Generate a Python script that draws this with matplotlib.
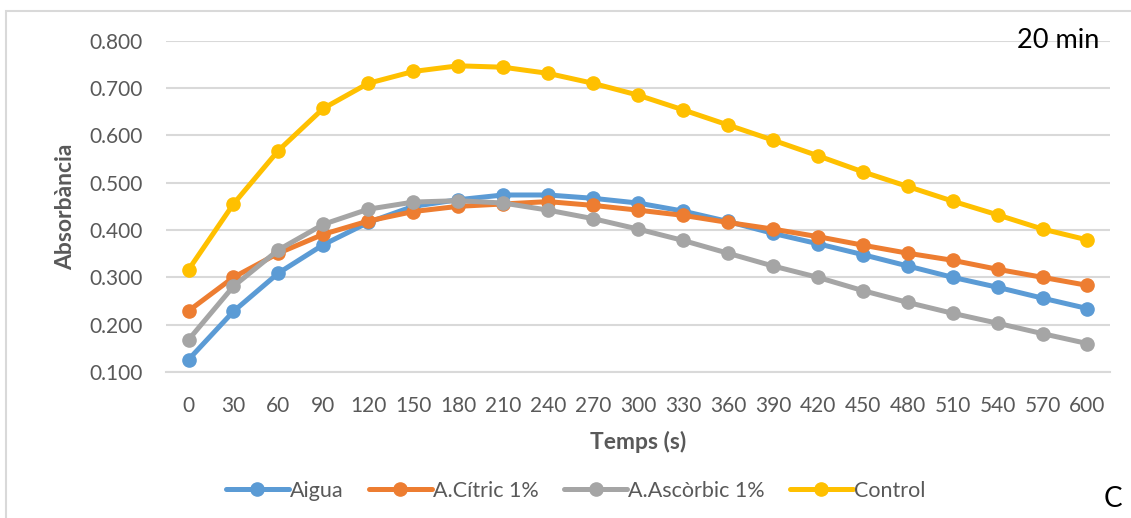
import matplotlib.pyplot as plt
from matplotlib.patches import Rectangle

temps = [0, 30, 60, 90, 120, 150, 180, 210, 240, 270, 300,
         330, 360, 390, 420, 450, 480, 510, 540, 570, 600]

aigua = [0.126, 0.228, 0.309, 0.369, 0.416, 0.450, 0.464, 0.474, 0.474, 0.467, 0.457,
         0.440, 0.418, 0.393, 0.371, 0.348, 0.324, 0.300, 0.279, 0.256, 0.234]
citric = [0.229, 0.300, 0.351, 0.391, 0.419, 0.439, 0.450, 0.455, 0.460, 0.452, 0.442,
          0.431, 0.416, 0.402, 0.386, 0.368, 0.351, 0.336, 0.317, 0.300, 0.283]
ascorbic = [0.168, 0.281, 0.358, 0.412, 0.444, 0.459, 0.462, 0.457, 0.442, 0.424, 0.402,
            0.378, 0.351, 0.324, 0.300, 0.272, 0.247, 0.224, 0.203, 0.181, 0.160]
control = [0.316, 0.455, 0.568, 0.657, 0.710, 0.735, 0.747, 0.744, 0.731, 0.710, 0.685,
           0.654, 0.622, 0.590, 0.557, 0.523, 0.492, 0.461, 0.432, 0.402, 0.379]

series = [
    ("Aigua", aigua, "#5B9BD5"),
    ("A.Cítric 1%", citric, "#ED7D31"),
    ("A.Ascòrbic 1%", ascorbic, "#A5A5A5"),
    ("Control", control, "#FFC000"),
]
y_ticks = [0.1, 0.2, 0.3, 0.4, 0.5, 0.6, 0.7, 0.8]

plt.rcParams["font.family"] = ["Lato", "DejaVu Sans"]
text_grey = "#595959"

fig = plt.figure(figsize=(11.31, 5.18), dpi=100)
ax = fig.add_axes([0.1468, 0.2819, 0.8346, 0.6395])

# chart border
fig.patches.append(Rectangle((6 / 1131, -0.1), 1.1, 0.1 + 1 - 11 / 518,
                             transform=fig.transFigure, fill=False,
                             edgecolor="#D9D9D9", linewidth=1.5, zorder=0))

idx = list(range(len(temps)))
for name, vals, color in series:
    ax.plot(idx, vals, color=color, linewidth=3.6, marker="o",
            markersize=9.5, label=name, solid_capstyle="round")

ax.set_xlim(-0.5, len(temps) - 0.5)
ax.set_ylim(0.1, 0.8)
ax.set_xticks(idx)
ax.set_xticklabels([str(t) for t in temps])
ax.set_yticks(y_ticks)
ax.set_yticklabels([f"{v:.3f}" for v in y_ticks])
ax.tick_params(axis="both", length=0, labelsize=15, labelcolor=text_grey)
ax.tick_params(axis="y", pad=17)
ax.tick_params(axis="x", pad=17)
ax.grid(axis="y", color="#D9D9D9", linewidth=1.5)
ax.set_axisbelow(True)
for side in ["top", "right", "left"]:
    ax.spines[side].set_visible(False)
ax.spines["bottom"].set_color("#D9D9D9")
ax.spines["bottom"].set_linewidth(1.5)

ax.set_ylabel("Absorbància", fontsize=16.5, fontweight="bold", color=text_grey, labelpad=9)
ax.set_xlabel("Temps (s)", fontsize=16.5, fontweight="bold", color=text_grey, labelpad=11)

ax.legend(loc="upper center", bbox_to_anchor=(0.434, -0.27), ncol=4, frameon=False,
          fontsize=15.5, labelcolor=text_grey, handlelength=2.9, handletextpad=0.05,
          columnspacing=1.2)

fig.text(1099 / 1131, 1 - 40 / 518, "20 min", ha="right", va="center", fontsize=19.5, color="black")
fig.text(1104 / 1131, 1 - 499 / 518, "C", ha="left", va="center", fontsize=20, color="black")

fig.savefig("out.png", dpi=100)
